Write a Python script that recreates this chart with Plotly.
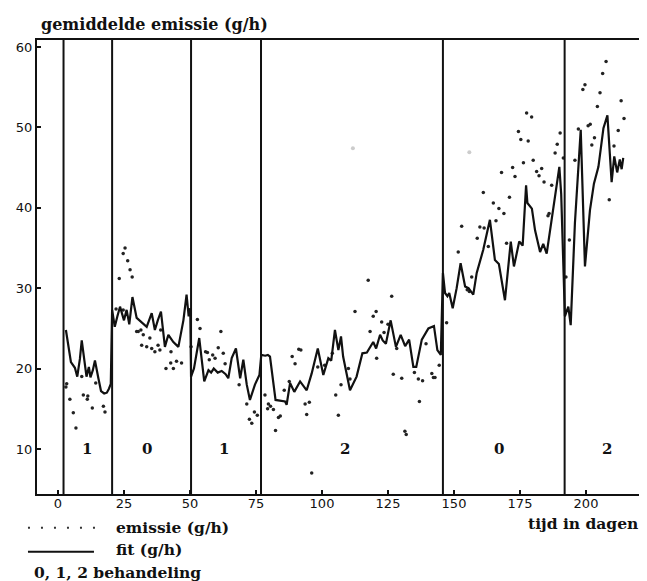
import plotly.graph_objects as go

# fitted emission (g/h) per day, continuous line incl. jumps at treatment changes
fit_day = [3.0, 4.9, 6.4, 7.3, 8.3, 9.0, 10.0, 10.8, 11.7, 12.3, 13.2, 14.0, 15.3, 16.3, 17.5, 18.5, 19.3, 20.0,
           20.5, 21.5, 22.5, 23.5, 25.0, 26.0, 27.0, 28.2, 29.8, 31.5, 33.6, 35.5, 36.7, 37.8, 39.0, 40.5, 41.8,
           43.7, 45.6, 47.5, 48.7, 49.5, 50.1,
           50.4, 51.5, 53.5, 54.3, 55.4, 57.0, 58.0, 59.0, 60.5, 62.0, 63.5, 64.5, 65.8, 67.4, 69.0, 70.2, 71.5,
           72.7, 74.6, 76.3,
           77.0, 78.5, 79.5, 80.3, 82.4, 86.0, 86.6, 87.9, 89.5, 91.7, 94.2, 96.1, 98.4, 100.5, 102.4, 103.5, 104.9,
           106.2, 107.2, 108.0, 110.6, 113.1, 115.3, 117.0, 119.4, 120.5, 122.0, 123.0, 124.2, 126.0, 128.0, 129.8,
           131.5, 133.0, 134.6, 135.7, 137.8, 140.3, 142.4, 143.7, 145.0,
           145.8, 146.6, 147.5, 148.2, 149.5, 151.0, 152.5, 154.2, 155.5, 157.3, 158.6, 161.1, 163.6, 165.5, 167.0,
           169.3, 171.5, 172.7, 174.7, 176.0, 177.3, 177.8, 179.5, 180.7, 182.6, 183.8, 185.1, 187.6, 189.9, 190.6,
           192.0, 193.3, 194.2, 195.8, 198.0, 199.6, 201.5, 203.0, 204.7, 206.6, 208.1, 209.7, 210.7, 211.8, 212.8,
           213.5, 214.1]
fit_val = [24.8, 20.8, 20.1, 19.0, 21.2, 23.5, 21.0, 19.0, 20.2, 18.9, 19.8, 21.0, 18.8, 17.2, 16.9, 17.0, 17.5, 18.1,
           27.3, 25.2, 26.5, 27.7, 26.0, 27.3, 25.5, 28.9, 26.3, 25.8, 25.2, 26.9, 24.8, 26.0, 27.1, 22.7, 24.2,
           23.3, 22.7, 26.0, 29.2, 26.5, 27.5,
           19.0, 20.0, 23.8, 21.5, 18.4, 19.8, 19.5, 20.0, 19.5, 19.7, 19.3, 18.8, 21.3, 22.5, 18.8, 21.1, 18.0,
           16.1, 18.0, 19.2,
           21.7, 21.6, 21.7, 21.5, 16.1, 15.9, 15.5, 18.2, 17.1, 18.4, 17.3, 19.4, 22.5, 19.2, 21.3, 21.0, 24.8,
           22.3, 24.0, 21.5, 17.3, 19.0, 21.9, 22.0, 23.3, 22.5, 24.2, 23.5, 23.1, 26.0, 22.7, 24.2,
           22.8, 23.6, 20.2, 20.2, 23.6, 25.0, 25.3, 22.3, 21.7,
           31.9, 29.4, 29.0, 29.4, 27.5, 30.0, 33.1, 30.2, 30.0, 29.2, 31.9, 34.8, 38.5, 33.5, 33.0,
           28.5, 35.8, 32.7, 35.8, 35.3, 42.8, 40.6, 39.9, 37.2, 34.5, 35.5, 34.3, 39.7, 45.1, 41.7,
           26.5, 27.7, 25.4, 38.1, 49.7, 32.7, 39.7, 43.0, 45.1, 49.9, 51.5, 43.2, 46.4, 44.4, 46.0,
           44.8, 46.2]

# measured emission (g/h)
emis_day = [3.0, 3.3, 4.5, 5.8, 6.8, 9.0, 9.6, 11.1, 11.3, 13.0, 14.3, 17.2, 17.8,
            22.0, 24.7, 23.2, 24.7, 25.4, 26.4, 27.3, 28.1, 29.8, 30.4, 31.4, 32.3, 31.7, 33.6, 34.8, 35.5, 36.7,
            37.9, 38.6, 38.9, 40.9, 42.7, 43.7, 44.9, 46.8, 42.8,
            50.4, 52.8, 53.8, 55.9, 56.6, 57.3, 58.6, 59.5, 60.7, 61.7, 62.6, 63.3, 68.6, 71.5, 72.5, 73.4, 74.4, 75.5,
            78.4, 79.4, 79.7, 80.5, 81.6, 82.4, 83.5, 84.2, 85.7, 87.6, 88.7, 89.8, 91.2, 92.0, 93.6, 94.2, 95.2,
            96.1, 98.4, 101.0, 103.9, 105.2, 106.2, 107.2, 110.0, 110.6, 112.5, 117.5, 118.2, 119.4, 120.5, 120.7,
            122.6, 123.5, 125.0, 126.4, 127.0, 128.3, 130.2, 131.4, 131.9, 135.0, 136.9, 136.5, 138.1, 139.4, 141.6,
            142.2, 142.8, 144.4,
            147.2, 151.6, 152.9, 155.0, 155.8, 156.7, 158.8, 159.8, 161.4, 161.1, 163.0, 164.9, 165.9, 167.0, 168.0,
            168.9, 169.9, 171.0, 172.2, 173.1, 174.4, 175.3, 176.3, 177.5, 179.4, 178.1, 180.0, 181.3, 182.2, 183.2,
            184.1, 185.6, 186.0, 187.0, 188.3, 189.1, 190.2, 191.4,
            192.4, 193.7, 195.8, 197.1, 198.8, 199.6, 200.8, 201.6, 202.2, 203.2, 204.3, 205.3, 206.3, 207.6, 208.8,
            210.6, 212.2, 213.3, 214.4]
emis_val = [17.7, 18.1, 16.2, 14.5, 12.6, 19.0, 16.7, 16.2, 16.6, 15.1, 18.2, 15.3, 14.6,
            27.4, 27.3, 31.2, 34.3, 35.0, 33.4, 32.3, 31.4, 24.6, 24.6, 24.8, 24.2, 22.9, 22.7, 23.8, 22.5, 22.1,
            22.9, 22.3, 24.8, 20.0, 20.7, 20.0, 20.9, 20.7, 22.1,
            22.7, 26.1, 25.0, 22.1, 22.0, 21.1, 21.7, 21.3, 22.6, 24.6, 21.9, 20.6, 18.0, 15.6, 13.7, 13.2, 14.6, 14.2,
            16.7, 15.0, 15.6, 15.3, 14.9, 12.3, 13.9, 14.1, 17.3, 18.4, 21.5, 20.6, 22.4, 22.3, 15.6, 14.3, 15.8,
            7.0, 20.2, 20.4, 21.9, 16.7, 14.2, 18.0, 20.0, 18.7, 27.1, 31.0, 24.6, 26.5, 27.1, 21.3,
            25.8, 24.5, 25.5, 29.0, 19.3, 22.5, 18.8, 12.2, 11.8, 19.5, 15.9, 18.7, 18.5, 23.1, 19.4,
            18.9, 18.9, 20.4,
            25.7, 34.5, 37.7, 29.8, 29.6, 31.4, 36.2, 37.6, 37.5, 41.9, 35.2, 40.6, 38.4, 39.9, 44.4,
            39.3, 35.6, 41.3, 45.0, 43.9, 49.5, 48.5, 45.6, 51.8, 51.3, 48.3, 45.9, 44.5, 44.0, 44.9,
            43.2, 39.0, 39.3, 42.8, 46.8, 47.9, 49.3, 46.2,
            31.4, 36.0, 45.9, 49.8, 54.7, 55.3, 50.2, 50.4, 47.8, 48.7, 52.6, 54.3, 56.7, 58.2, 41.0,
            47.7, 49.6, 53.3, 51.1]

# faint marks on the scan
faint_day = [111.7, 155.8]
faint_val = [47.4, 46.9]

# treatment changes and treatment codes
change_days = [2.1, 20.5, 50.4, 76.9, 145.8, 191.9]
treat_day = [11, 33.7, 63, 108.7, 167, 208]
treat_code = ['1', '0', '1', '2', '0', '2']

x_ticks = [0, 25, 50, 75, 100, 125, 150, 175, 200]
y_ticks = [10, 20, 30, 40, 50, 60]

SERIF = "DejaVu Serif"
SANS = "DejaVu Sans"
INK = '#111'

fig = go.Figure()

fig.add_trace(go.Scatter(x=emis_day, y=emis_val, mode='markers',
                         marker=dict(size=3.5, color='#222'), showlegend=False))
fig.add_trace(go.Scatter(x=faint_day, y=faint_val, mode='markers',
                         marker=dict(size=4, color='#ccc'), showlegend=False))
fig.add_trace(go.Scatter(x=fit_day, y=fit_val, mode='lines',
                         line=dict(color=INK, width=2.2), showlegend=False))

for d in change_days:
    fig.add_shape(type='line', x0=d, x1=d, y0=0, y1=1, xref='x', yref='paper',
                  line=dict(color=INK, width=2))

for d, c in zip(treat_day, treat_code):
    fig.add_annotation(x=d, y=10, text=f"<b>{c}</b>", showarrow=False,
                       font=dict(family=SERIF, size=15, color=INK))


def note(text, x, y, anchor='left', size=15.5):
    fig.add_annotation(xref='paper', yref='paper', x=x, y=y, xanchor=anchor, yanchor='middle',
                       text=f"<b>{text}</b>", showarrow=False,
                       font=dict(family=SERIF, size=size, color=INK))


# axis titles and key below the plot
note("gemiddelde emissie (g/h)", 0.003, 1.035, size=16)
note("tijd in dagen", 0.988, -0.064, anchor='right')
note("emissie (g/h)", 0.126, -0.073)
note("fit (g/h)", 0.126, -0.123)
note("0, 1, 2 behandeling", -0.009, -0.174)
fig.add_shape(type='line', xref='paper', yref='paper', x0=-0.0148, x1=0.1, y0=-0.0742, y1=-0.0742,
              line=dict(color='#333', width=2, dash='2px,11px'))
fig.add_shape(type='line', xref='paper', yref='paper', x0=-0.0148, x1=0.0934, y0=-0.127, y1=-0.127,
              line=dict(color=INK, width=2))

fig.update_xaxes(range=[-7.95, 223.1], tickvals=x_ticks, ticks='inside', ticklen=4, tickwidth=1.5,
                 tickcolor=INK, showline=True, linecolor=INK, linewidth=2, mirror=True,
                 showgrid=False, zeroline=False, ticklabelstandoff=-4,
                 tickfont=dict(family=SANS, size=13, color=INK))
fig.update_yaxes(range=[4.4, 60.87], tickvals=y_ticks, ticks='inside', ticklen=4, tickwidth=1.5,
                 tickcolor=INK, showline=True, linecolor=INK, linewidth=2,
                 showgrid=False, zeroline=False, tickfont=dict(family=SANS, size=13, color=INK))

# page body adds an 8px offset, so the figure is 8px smaller than the window
fig.update_layout(width=639, height=573, margin=dict(l=29, r=0, t=32, b=87),
                  plot_bgcolor='white', paper_bgcolor='white', showlegend=False)

fig.write_html("out.html")
